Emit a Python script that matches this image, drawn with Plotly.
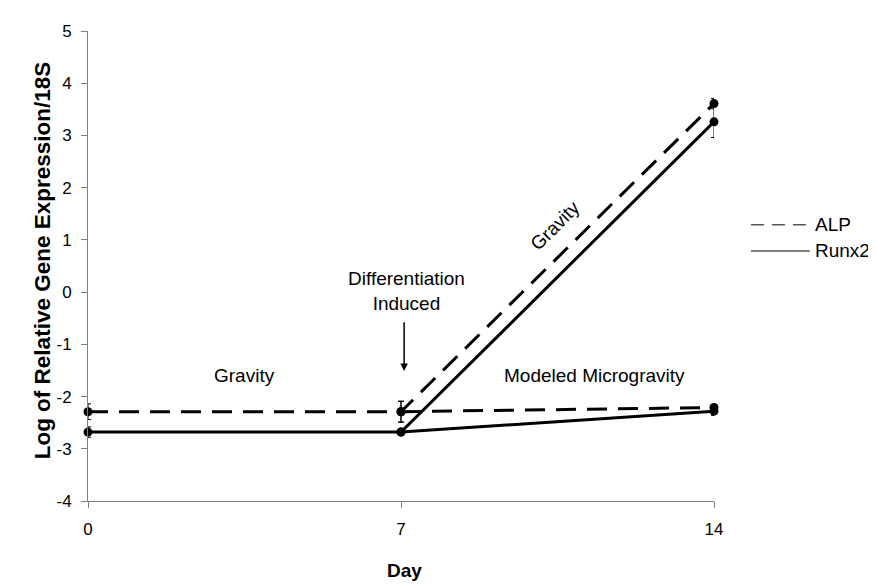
import plotly.graph_objects as go

# ---- data ----
days_gravity = [0, 7, 14]
days_micro = [7, 14]
alp_gravity = [-2.29, -2.29, 3.61]
alp_gravity_err = [0.15, 0.20, 0.10]
alp_micro = [-2.29, -2.21]
alp_micro_err = [0.20, 0.06]
runx2_gravity = [-2.68, -2.68, 3.26]
runx2_gravity_err = [0.10, 0.06, 0.30]
runx2_micro = [-2.68, -2.28]
runx2_micro_err = [0.06, 0.08]
series_names = ["ALP", "Runx2"]
x_ticks = [0, 7, 14]
y_ticks = [-4, -3, -2, -1, 0, 1, 2, 3, 4, 5]

FONT = "Liberation Sans, Arial, sans-serif"

fig = go.Figure()

def add_series(x, y, err, dash):
    fig.add_trace(go.Scatter(
        x=x, y=y, mode="lines+markers",
        line=dict(color="black", width=3, dash=dash),
        marker=dict(color="black", size=9),
        error_y=dict(type="data", array=err, color="black", thickness=1, width=3),
        cliponaxis=False, showlegend=False))

add_series(days_gravity, alp_gravity, alp_gravity_err, "20px,11px")
add_series(days_micro, alp_micro, alp_micro_err, "20px,11px")
add_series(days_gravity, runx2_gravity, runx2_gravity_err, "solid")
add_series(days_micro, runx2_micro, runx2_micro_err, "solid")

axis_common = dict(showgrid=False, zeroline=False, showline=True, linecolor="#808080",
                   linewidth=1, ticks="outside", ticklen=6, tickcolor="#808080",
                   tickfont=dict(family=FONT, size=17, color="black"))

fig.update_xaxes(range=[0, 14], tickvals=x_ticks, ticktext=[str(v) for v in x_ticks],
                 ticklabelstandoff=7, **axis_common)
fig.update_yaxes(range=[-4, 5], tickvals=y_ticks, ticktext=[str(v) for v in y_ticks],
                 ticklabelstandoff=6, **axis_common)

ann_font = dict(family=FONT, size=19, color="black")
annotations = [
    dict(x=3.5, y=-1.6, text="Gravity", showarrow=False, font=ann_font),
    dict(x=11.32, y=-1.6, text="Modeled Microgravity", showarrow=False, font=ann_font),
    dict(x=7.13, y=0.03, text="Differentiation<br>Induced", showarrow=False, font=ann_font),
    dict(x=10.45, y=1.27, text="Gravity", showarrow=False, textangle=-45, font=ann_font),
    dict(x=7.07, y=-1.51, ax=7.07, ay=-0.55, axref="x", ayref="y", text="",
         showarrow=True, arrowhead=2, arrowsize=1, arrowwidth=1.5, arrowcolor="black"),
    # axis titles
    dict(xref="paper", yref="paper", x=-0.0958, y=0.511, text="<b>Log of Relative Gene Expression/18S</b>",
         textangle=-90, showarrow=False, font=dict(family=FONT, size=22.5, color="black")),
    dict(xref="paper", yref="paper", x=0.505, y=-0.174, text="<b>Day</b>",
         showarrow=False, font=dict(family=FONT, size=19, color="black")),
]

# manual legend
legend_y = [0.588, 0.532]
legend_dash = ["13px,8px", "solid"]
shapes = []
for name, yy, d in zip(series_names, legend_y, legend_dash):
    shapes.append(dict(type="line", xref="paper", yref="paper", x0=1.059, x1=1.153, y0=yy, y1=yy,
                       line=dict(color="#555555", width=1.5, dash=d)))
    annotations.append(dict(xref="paper", yref="paper", x=1.158, y=yy, text=name, xanchor="left",
                            showarrow=False, font=dict(family=FONT, size=19, color="black")))

fig.update_layout(width=876, height=584, margin=dict(l=80, r=170, t=23, b=91),
                  plot_bgcolor="white", paper_bgcolor="white",
                  annotations=annotations, shapes=shapes, showlegend=False)

fig.write_html("out.html")
